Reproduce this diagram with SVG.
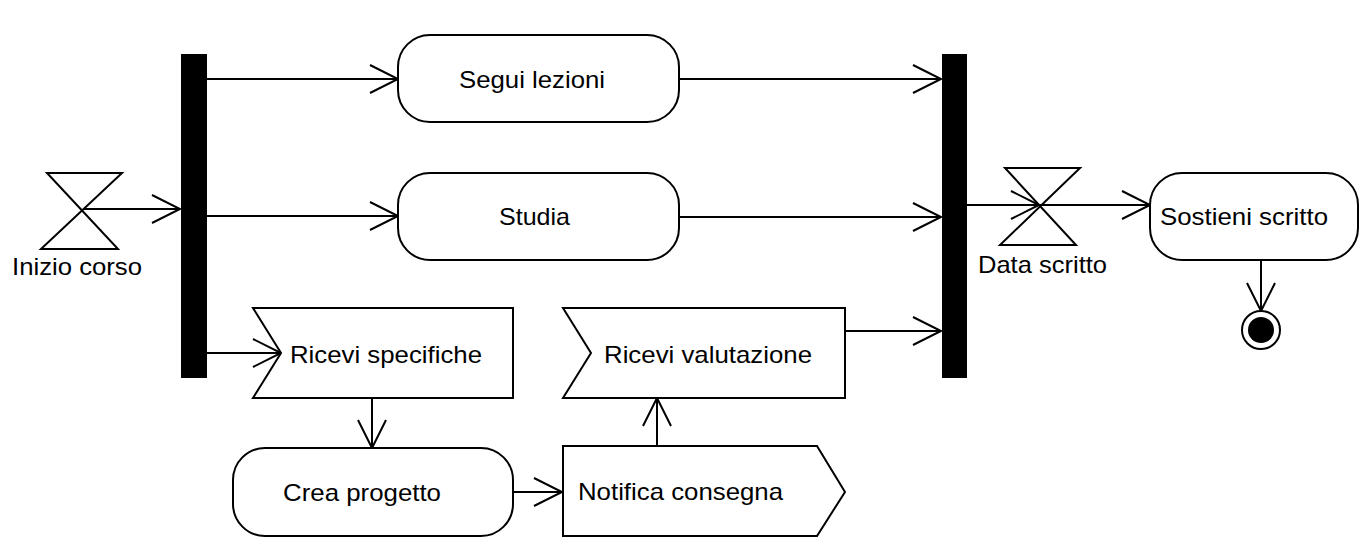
<svg xmlns="http://www.w3.org/2000/svg" width="1370" height="560" viewBox="0 0 1370 560">
<style>
.shape{fill:#fff;stroke:#000;stroke-width:2}
.bar{fill:#000}
.lbl{font-family:"Liberation Sans",Arial,Helvetica,sans-serif;font-size:24px;fill:#000}
.conn{fill:none;stroke:#000;stroke-width:2}
</style>
<defs>
<marker id="arr" markerUnits="userSpaceOnUse" markerWidth="32" markerHeight="32" viewBox="-2 -2 32 32" refX="28" refY="14" orient="auto" overflow="visible">
<path d="M0,0 L28,14 L0,28" fill="none" stroke="#000" stroke-width="2"/>
</marker>
</defs>
<rect width="1370" height="560" fill="#fff"/>
<g id="connectors">
<line class="conn" x1="83" y1="209" x2="180" y2="209" marker-end="url(#arr)"/>
<line class="conn" x1="207" y1="79" x2="398" y2="79" marker-end="url(#arr)"/>
<line class="conn" x1="207" y1="216" x2="398" y2="216" marker-end="url(#arr)"/>
<line class="conn" x1="207" y1="353" x2="281" y2="353" marker-end="url(#arr)"/>
<line class="conn" x1="679" y1="79" x2="941" y2="79" marker-end="url(#arr)"/>
<line class="conn" x1="679" y1="217" x2="941" y2="217" marker-end="url(#arr)"/>
<line class="conn" x1="845" y1="331" x2="941" y2="331" marker-end="url(#arr)"/>
<line class="conn" x1="372" y1="398" x2="372" y2="448" marker-end="url(#arr)"/>
<line class="conn" x1="513" y1="492" x2="562" y2="492" marker-end="url(#arr)"/>
<line class="conn" x1="657" y1="446" x2="657" y2="398" marker-end="url(#arr)"/>
<line class="conn" x1="967" y1="205" x2="1039" y2="205" marker-end="url(#arr)"/>
<line class="conn" x1="1040" y1="205" x2="1150" y2="205" marker-end="url(#arr)"/>
<line class="conn" x1="1261" y1="260" x2="1261" y2="311" marker-end="url(#arr)"/>
</g>
<g id="inizio-corso">
<path class="shape" d="M47,173 H122 L41,249 H118 Z" style="fill:none"/>
<text class="lbl" x="12" y="275" textLength="130" lengthAdjust="spacingAndGlyphs">Inizio corso</text>
</g>
<g id="fork">
<rect class="bar" x="181" y="54" width="26" height="324"/>
</g>
<g id="segui-lezioni">
<rect class="shape" x="398" y="35" width="281" height="87" rx="32" ry="32"/>
<text class="lbl" x="459" y="88" textLength="146" lengthAdjust="spacingAndGlyphs">Segui lezioni</text>
</g>
<g id="studia">
<rect class="shape" x="398" y="173" width="281" height="87" rx="32" ry="32"/>
<text class="lbl" x="499" y="225" textLength="71" lengthAdjust="spacingAndGlyphs">Studia</text>
</g>
<g id="ricevi-specifiche">
<polygon class="shape" points="253,308 513,308 513,398 253,398 281,353"/>
<text class="lbl" x="290" y="363" textLength="192" lengthAdjust="spacingAndGlyphs">Ricevi specifiche</text>
</g>
<g id="ricevi-valutazione">
<polygon class="shape" points="563,308 845,308 845,398 563,398 591,353"/>
<text class="lbl" x="604" y="363" textLength="208" lengthAdjust="spacingAndGlyphs">Ricevi valutazione</text>
</g>
<g id="crea-progetto">
<rect class="shape" x="233" y="448" width="280" height="88" rx="32" ry="32"/>
<text class="lbl" x="283" y="501" textLength="158" lengthAdjust="spacingAndGlyphs">Crea progetto</text>
</g>
<g id="notifica-consegna">
<polygon class="shape" points="563,446 817,446 845,492 817,536 563,536"/>
<text class="lbl" x="578" y="500" textLength="205" lengthAdjust="spacingAndGlyphs">Notifica consegna</text>
</g>
<g id="join">
<rect class="bar" x="942" y="54" width="25" height="324"/>
</g>
<g id="data-scritto">
<path class="shape" d="M1005,168 H1080 L1000,245 H1076 Z" style="fill:none"/>
<text class="lbl" x="978" y="273" textLength="129" lengthAdjust="spacingAndGlyphs">Data scritto</text>
</g>
<g id="sostieni-scritto">
<rect class="shape" x="1150" y="173" width="208" height="87" rx="32" ry="32"/>
<text class="lbl" x="1160" y="225" textLength="168" lengthAdjust="spacingAndGlyphs">Sostieni scritto</text>
</g>
<g id="fine">
<circle class="shape" cx="1261" cy="330" r="19"/>
<circle cx="1261" cy="330" r="13" fill="#000"/>
</g>
</svg>
